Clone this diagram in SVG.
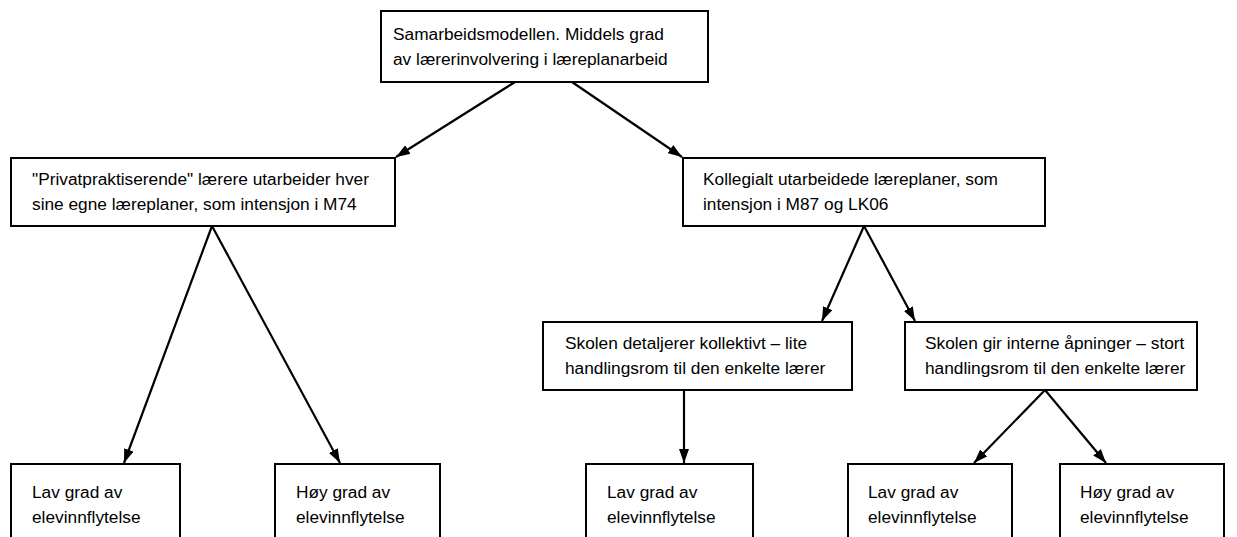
<svg xmlns="http://www.w3.org/2000/svg" width="1237" height="537" viewBox="0 0 1237 537">
<style>
.box{fill:#fff;stroke:#000;stroke-width:2}
.t{font-family:"Liberation Sans",Arial,sans-serif;font-size:17.3px;fill:#000}
.c{stroke:#000;stroke-width:2.2;fill:none;marker-end:url(#ah)}
</style>
<defs>
<marker id="ah" viewBox="0 0 14 10" refX="14" refY="5" markerWidth="14" markerHeight="10" orient="auto" markerUnits="userSpaceOnUse">
<path d="M0,0 L14,5 L0,10 Z" fill="#000"/>
</marker>
</defs>
<rect width="1237" height="537" fill="#fff"/>
<g id="connectors">
<line class="c" x1="515" y1="82" x2="396" y2="157"/>
<line class="c" x1="572" y1="82" x2="682" y2="157"/>
<line class="c" x1="212" y1="226" x2="124" y2="463"/>
<line class="c" x1="212" y1="226" x2="340" y2="463"/>
<line class="c" x1="864" y1="226" x2="822" y2="321"/>
<line class="c" x1="864" y1="226" x2="915" y2="321"/>
<line class="c" x1="684" y1="390" x2="684" y2="463"/>
<line class="c" x1="1045" y1="390" x2="974" y2="463"/>
<line class="c" x1="1045" y1="390" x2="1106" y2="463"/>
</g>
<g id="top">
<rect class="box" x="381" y="11" width="327" height="71"/>
<text class="t" x="393" y="40">Samarbeidsmodellen. Middels grad</text>
<text class="t" x="393" y="65">av lærerinvolvering i læreplanarbeid</text>
</g>
<g id="left">
<rect class="box" x="11" y="158" width="384" height="68"/>
<text class="t" x="32" y="185">"Privatpraktiserende" lærere utarbeider hver</text>
<text class="t" x="32" y="210">sine egne læreplaner, som intensjon i M74</text>
</g>
<g id="right">
<rect class="box" x="683" y="158" width="362" height="68"/>
<text class="t" x="703" y="185">Kollegialt utarbeidede læreplaner, som</text>
<text class="t" x="703" y="210">intensjon i M87 og LK06</text>
</g>
<g id="mid1">
<rect class="box" x="543" y="322" width="309" height="68"/>
<text class="t" x="565" y="349">Skolen detaljerer kollektivt – lite</text>
<text class="t" x="565" y="374">handlingsrom til den enkelte lærer</text>
</g>
<g id="mid2">
<rect class="box" x="905" y="322" width="292" height="68"/>
<text class="t" x="925" y="349">Skolen gir interne åpninger – stort</text>
<text class="t" x="925" y="374">handlingsrom til den enkelte lærer</text>
</g>
<g id="b1">
<rect class="box" x="11" y="464" width="169" height="90"/>
<text class="t" x="32" y="498">Lav grad av</text>
<text class="t" x="32" y="523">elevinnflytelse</text>
</g>
<g id="b2">
<rect class="box" x="275" y="464" width="165" height="90"/>
<text class="t" x="296" y="498">Høy grad av</text>
<text class="t" x="296" y="523">elevinnflytelse</text>
</g>
<g id="b3">
<rect class="box" x="586" y="464" width="167" height="90"/>
<text class="t" x="607" y="498">Lav grad av</text>
<text class="t" x="607" y="523">elevinnflytelse</text>
</g>
<g id="b4">
<rect class="box" x="848" y="464" width="164" height="90"/>
<text class="t" x="868" y="498">Lav grad av</text>
<text class="t" x="868" y="523">elevinnflytelse</text>
</g>
<g id="b5">
<rect class="box" x="1060" y="464" width="164" height="90"/>
<text class="t" x="1080" y="498">Høy grad av</text>
<text class="t" x="1080" y="523">elevinnflytelse</text>
</g>
</svg>
